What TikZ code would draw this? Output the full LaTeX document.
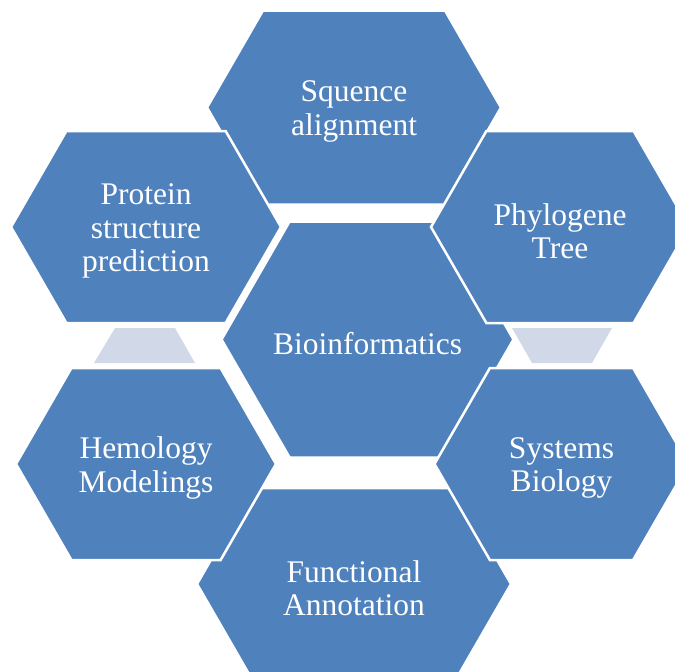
\documentclass[tikz,border=0pt]{standalone}
\usepackage{fontspec}
\setmainfont{Liberation Serif}
\usepackage{tikz}

\definecolor{hexblue}{HTML}{4F81BD}
\definecolor{tipgrey}{HTML}{D1D8E8}

\tikzset{
  hexfill/.style={fill=hexblue,draw=white,line width=2.5pt,line join=miter},
  hextext/.style={text=white,align=center,yshift=-4pt,font=\fontsize{31.5}{33.5}\selectfont},
  tipfill/.style={fill=tipgrey}
}

% #1 name, #2 #3 centre, #4 half width, #5 half height, #6 label
\newcommand{\hexcell}[6]{%
  \path[hexfill] (#2-#4,#3) -- (#2-#4+0.577*#5,#3-#5) -- (#2+#4-0.577*#5,#3-#5)
    -- (#2+#4,#3) -- (#2+#4-0.577*#5,#3+#5) -- (#2-#4+0.577*#5,#3+#5) -- cycle;
  \node[hextext] (#1) at (#2,#3) {#6};
}

\begin{document}
\begin{tikzpicture}[x=1pt,y=-1pt]
  \clip (0,0) rectangle (675,672);
  \fill[white] (0,0) rectangle (675,672);

  %centre cell
  \hexcell{bio}{367.5}{339.5}{146}{118}{Bioinformatics}

  %outer cells
  \hexcell{seq}{354}{107.5}{147}{97}{Squence\\alignment}
  \hexcell{func}{354}{584}{157}{96}{Functional\\Annotation}
  \hexcell{prot}{146}{227}{135}{96}{Protein\\structure\\prediction}
  \hexcell{phylo}{560}{227}{129}{96}{Phylogene\\Tree}
  \hexcell{homol}{146}{464}{130}{96}{Hemology\\Modelings}
  \hexcell{sysbio}{561.5}{464}{127}{96}{Systems\\Biology}

  %side tips
  \path[tipfill] (94,363) -- (115,328) -- (175,328) -- (195,363) -- cycle;
  \path[tipfill] (512,328) -- (612,328) -- (592,363) -- (532,363) -- cycle;
\end{tikzpicture}
\end{document}
